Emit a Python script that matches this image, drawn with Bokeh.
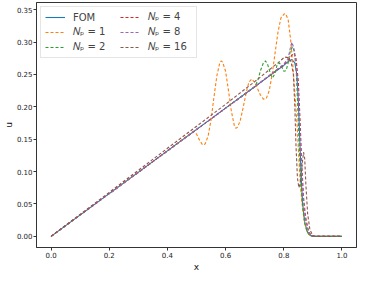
from bokeh.plotting import figure
from bokeh.models import FixedTicker, PrintfTickFormatter, Legend, LegendItem, Range1d
from bokeh.embed import file_html
from bokeh.resources import INLINE

# ---- data ----
fom_x = [0, 0.2, 0.4, 0.6, 0.7, 0.76, 0.8, 0.815, 0.828, 0.838, 0.845, 0.85, 0.855, 0.86, 0.865, 0.872, 0.88, 0.89, 0.9, 1.0]
fom_u = [0, 0.066, 0.132, 0.198, 0.231, 0.251, 0.264, 0.270, 0.273, 0.268, 0.250, 0.210, 0.150, 0.090, 0.050, 0.022, 0.008, 0.002, 0, 0]

np1_x = [0, 0.2, 0.4, 0.47, 0.49, 0.50, 0.51, 0.52, 0.525, 0.53, 0.54, 0.55, 0.56, 0.57, 0.58, 0.585, 0.59, 0.60,
         0.61, 0.62, 0.63, 0.635, 0.64, 0.65, 0.66, 0.67, 0.68, 0.69, 0.70, 0.71, 0.72, 0.73, 0.74, 0.75, 0.76,
         0.77, 0.78, 0.79, 0.80, 0.806, 0.815, 0.824, 0.832, 0.84, 0.846, 0.852, 0.857, 0.863, 0.87, 0.88, 0.89, 0.9, 1.0]
np1_u = [0, 0.066, 0.132, 0.156, 0.162, 0.158, 0.149, 0.142, 0.141, 0.143, 0.155, 0.180, 0.215, 0.248, 0.268, 0.271, 0.269, 0.255,
         0.225, 0.193, 0.171, 0.167, 0.168, 0.178, 0.198, 0.220, 0.238, 0.243, 0.238, 0.228, 0.218, 0.212, 0.213, 0.225, 0.250,
         0.283, 0.315, 0.337, 0.343, 0.344, 0.335, 0.302, 0.260, 0.210, 0.170, 0.120, 0.080, 0.050, 0.025, 0.008, 0.001, 0, 0]

np2_x = [0, 0.2, 0.4, 0.6, 0.70, 0.71, 0.72, 0.73, 0.737, 0.745, 0.755, 0.762, 0.77, 0.777, 0.785, 0.793, 0.80, 0.808,
         0.815, 0.822, 0.83, 0.837, 0.843, 0.848, 0.853, 0.858, 0.864, 0.872, 0.88, 0.89, 0.9, 1.0]
np2_u = [0, 0.066, 0.132, 0.198, 0.231, 0.240, 0.256, 0.268, 0.271, 0.265, 0.250, 0.245, 0.252, 0.265, 0.268, 0.262, 0.255, 0.256,
         0.268, 0.285, 0.293, 0.285, 0.255, 0.200, 0.140, 0.090, 0.050, 0.020, 0.007, 0.001, 0, 0]

np4_x = [0, 0.2, 0.4, 0.6, 0.7, 0.8, 0.815, 0.828, 0.835, 0.842, 0.85, 0.856, 0.862, 0.868, 0.875, 0.885, 0.895, 0.905, 1.0]
np4_u = [0, 0.066, 0.132, 0.198, 0.231, 0.265, 0.272, 0.280, 0.283, 0.275, 0.240, 0.180, 0.110, 0.060, 0.030, 0.008, 0.001, 0, 0]

np8_x = [0, 0.2, 0.4, 0.6, 0.7, 0.8, 0.815, 0.822, 0.828, 0.835, 0.842, 0.85, 0.856, 0.862, 0.868, 0.875, 0.885, 0.895, 0.905, 1.0]
np8_u = [0, 0.066, 0.132, 0.198, 0.231, 0.266, 0.275, 0.290, 0.300, 0.290, 0.265, 0.220, 0.160, 0.100, 0.055, 0.025, 0.007, 0.001, 0, 0]

np16_x = [0, 0.2, 0.4, 0.6, 0.7, 0.78, 0.803, 0.815, 0.825, 0.833, 0.838, 0.842, 0.847, 0.852, 0.858, 0.864, 0.868, 0.872,
          0.876, 0.882, 0.89, 0.9, 0.91, 1.0]
np16_u = [0, 0.068, 0.136, 0.204, 0.239, 0.268, 0.277, 0.276, 0.270, 0.250, 0.200, 0.140, 0.090, 0.075, 0.085, 0.115, 0.130, 0.120,
          0.080, 0.035, 0.010, 0.001, 0, 0]

x_ticks = [0.0, 0.2, 0.4, 0.6, 0.8, 1.0]
y_ticks = [0.0, 0.05, 0.10, 0.15, 0.20, 0.25, 0.30, 0.35]

labels = ["FOM", "\U0001D441\u209A = 1", "\U0001D441\u209A = 2", "\U0001D441\u209A = 4", "\U0001D441\u209A = 8", "\U0001D441\u209A = 16"]
colors = ["#1f77b4", "#ff7f0e", "#2ca02c", "#d62728", "#9467bd", "#8c564b"]

p = figure(width=358, height=274, output_backend="svg", toolbar_location=None,
           x_range=Range1d(-0.05, 1.05), y_range=Range1d(-0.0172, 0.3612),
           min_border_left=0, min_border_right=2, min_border_top=2, min_border_bottom=0)
p.grid.visible = False
p.outline_line_color = "#333333"
p.outline_line_width = 1
p.background_fill_color = "white"
p.border_fill_color = "white"

for ax in (p.xaxis[0], p.yaxis[0]):
    ax.axis_line_color = "#333333"
    ax.major_tick_line_color = "#333333"
    ax.major_tick_in = 0
    ax.major_tick_out = 3
    ax.minor_tick_line_color = None
    ax.major_label_text_font = "DejaVu Sans"
    ax.major_label_text_font_size = "7px"
    ax.major_label_text_color = "#222222"
    ax.axis_label_text_font = "DejaVu Sans"
    ax.axis_label_text_font_size = "9px"
    ax.axis_label_text_font_style = "normal"
    ax.axis_label_text_color = "#111111"
    ax.major_label_standoff = 1

p.xaxis[0].ticker = FixedTicker(ticks=x_ticks)
p.xaxis[0].formatter = PrintfTickFormatter(format="%.1f")
p.yaxis[0].ticker = FixedTicker(ticks=y_ticks)
p.yaxis[0].formatter = PrintfTickFormatter(format="%.2f")
p.xaxis[0].axis_label = "x"
p.yaxis[0].axis_label = "u"
p.xaxis[0].axis_label_standoff = 1
p.yaxis[0].axis_label_standoff = 0

series = [(fom_x, fom_u), (np1_x, np1_u), (np2_x, np2_u), (np4_x, np4_u), (np8_x, np8_u), (np16_x, np16_u)]
renderers = []
for i, (xs, us) in enumerate(series):
    dash = "solid" if i == 0 else "3 2"
    r = p.line(xs, us, line_color=colors[i], line_width=1.1, line_dash=dash)
    renderers.append(r)

items = [LegendItem(label=labels[i], renderers=[renderers[i]]) for i in range(6)]
legend = Legend(items=items, location="top_left", orientation="vertical", nrows=3,
                label_text_font="DejaVu Sans", label_text_font_size="10px",
                glyph_width=20, glyph_height=12, label_height=12, label_width=44,
                spacing=3, padding=4, margin=4, label_standoff=8,
                border_line_color="#cccccc", border_line_width=1,
                background_fill_alpha=0.8)
p.add_layout(legend)

open("out.html", "w").write(file_html(p, INLINE))
